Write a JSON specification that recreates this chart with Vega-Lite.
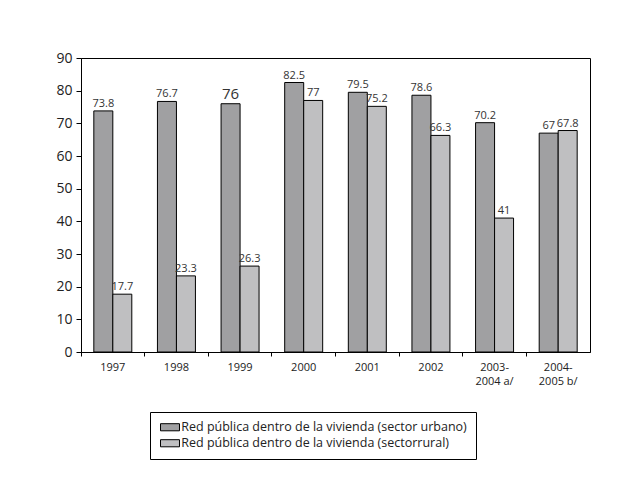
{
  "$schema": "https://vega.github.io/schema/vega-lite/v6.json",
  "width": 509,
  "height": 294,
  "autosize": {"type": "none"},
  "padding": {"left": 81, "top": 58, "right": 27, "bottom": 141},
  "background": "white",
  "config": {
    "font": "Open Sans",
    "view": {"stroke": "#000", "strokeWidth": 1}
  },
  "data": {
    "values": [
      {"year": "1997", "serie": "Red pública dentro de la vivienda (sector urbano)", "valor": 73.8},
      {"year": "1997", "serie": "Red pública dentro de la vivienda (sectorrural)", "valor": 17.7},
      {"year": "1998", "serie": "Red pública dentro de la vivienda (sector urbano)", "valor": 76.7},
      {"year": "1998", "serie": "Red pública dentro de la vivienda (sectorrural)", "valor": 23.3},
      {"year": "1999", "serie": "Red pública dentro de la vivienda (sector urbano)", "valor": 76},
      {"year": "1999", "serie": "Red pública dentro de la vivienda (sectorrural)", "valor": 26.3},
      {"year": "2000", "serie": "Red pública dentro de la vivienda (sector urbano)", "valor": 82.5},
      {"year": "2000", "serie": "Red pública dentro de la vivienda (sectorrural)", "valor": 77},
      {"year": "2001", "serie": "Red pública dentro de la vivienda (sector urbano)", "valor": 79.5},
      {"year": "2001", "serie": "Red pública dentro de la vivienda (sectorrural)", "valor": 75.2},
      {"year": "2002", "serie": "Red pública dentro de la vivienda (sector urbano)", "valor": 78.6},
      {"year": "2002", "serie": "Red pública dentro de la vivienda (sectorrural)", "valor": 66.3},
      {"year": "2003-2004 a/", "serie": "Red pública dentro de la vivienda (sector urbano)", "valor": 70.2},
      {"year": "2003-2004 a/", "serie": "Red pública dentro de la vivienda (sectorrural)", "valor": 41},
      {"year": "2004-2005 b/", "serie": "Red pública dentro de la vivienda (sector urbano)", "valor": 67},
      {"year": "2004-2005 b/", "serie": "Red pública dentro de la vivienda (sectorrural)", "valor": 67.8}
    ]
  },
  "encoding": {
    "x": {
      "field": "year",
      "type": "nominal",
      "sort": null,
      "scale": {"paddingInner": 0, "paddingOuter": 0},
      "axis": {
        "title": null,
        "bandPosition": 0,
        "labelAngle": 0,
        "labelFontSize": 11,
        "labelColor": "#222",
        "labelPadding": 5,
        "labelLineHeight": 14,
        "labelExpr": "length(datum.value) > 5 ? [slice(datum.value, 0, 5), slice(datum.value, 5)] : datum.value",
        "tickSize": 4,
        "tickColor": "#000",
        "domainColor": "#000"
      }
    },
    "xOffset": {
      "field": "serie",
      "type": "nominal",
      "sort": ["Red pública dentro de la vivienda (sector urbano)", "Red pública dentro de la vivienda (sectorrural)"],
      "scale": {"paddingOuter": 0.675, "paddingInner": 0}
    },
    "y": {
      "field": "valor",
      "type": "quantitative",
      "scale": {"domain": [0, 90]},
      "axis": {
        "title": null,
        "values": [0, 10, 20, 30, 40, 50, 60, 70, 80, 90],
        "grid": false,
        "tickSize": 5,
        "tickColor": "#000",
        "domainColor": "#000",
        "labelFontSize": 14,
        "labelColor": "#222",
        "labelPadding": 4
      }
    }
  },
  "layer": [
    {
      "mark": {"type": "bar", "stroke": "#000", "strokeWidth": 1},
      "encoding": {
        "color": {
          "field": "serie",
          "type": "nominal",
          "scale": {
            "domain": ["Red pública dentro de la vivienda (sector urbano)", "Red pública dentro de la vivienda (sectorrural)"],
            "range": ["#a0a0a2", "#bfbfc1"]
          },
          "legend": {
            "title": null,
            "orient": "none",
            "legendX": 69,
            "legendY": 354,
            "direction": "vertical",
            "strokeColor": "#000",
            "fillColor": "white",
            "padding": 9,
            "labelFontSize": 12.5,
            "labelColor": "#222",
            "labelLimit": 400,
            "symbolType": "M-2,-0.75H2V0.75H-2Z",
            "symbolSize": 90,
            "symbolStrokeColor": "#000",
            "symbolStrokeWidth": 1,
            "symbolOffset": 4.75,
            "labelOffset": 5,
            "rowPadding": 3
          }
        }
      }
    },
    {
      "mark": {"type": "text", "baseline": "bottom", "dy": -2, "color": "#333", "fontSize": 11},
      "encoding": {
        "text": {"field": "valor", "type": "nominal"},
        "size": {"condition": {"test": "datum['valor'] === 76", "value": 15}, "value": 11}
      }
    }
  ]
}
